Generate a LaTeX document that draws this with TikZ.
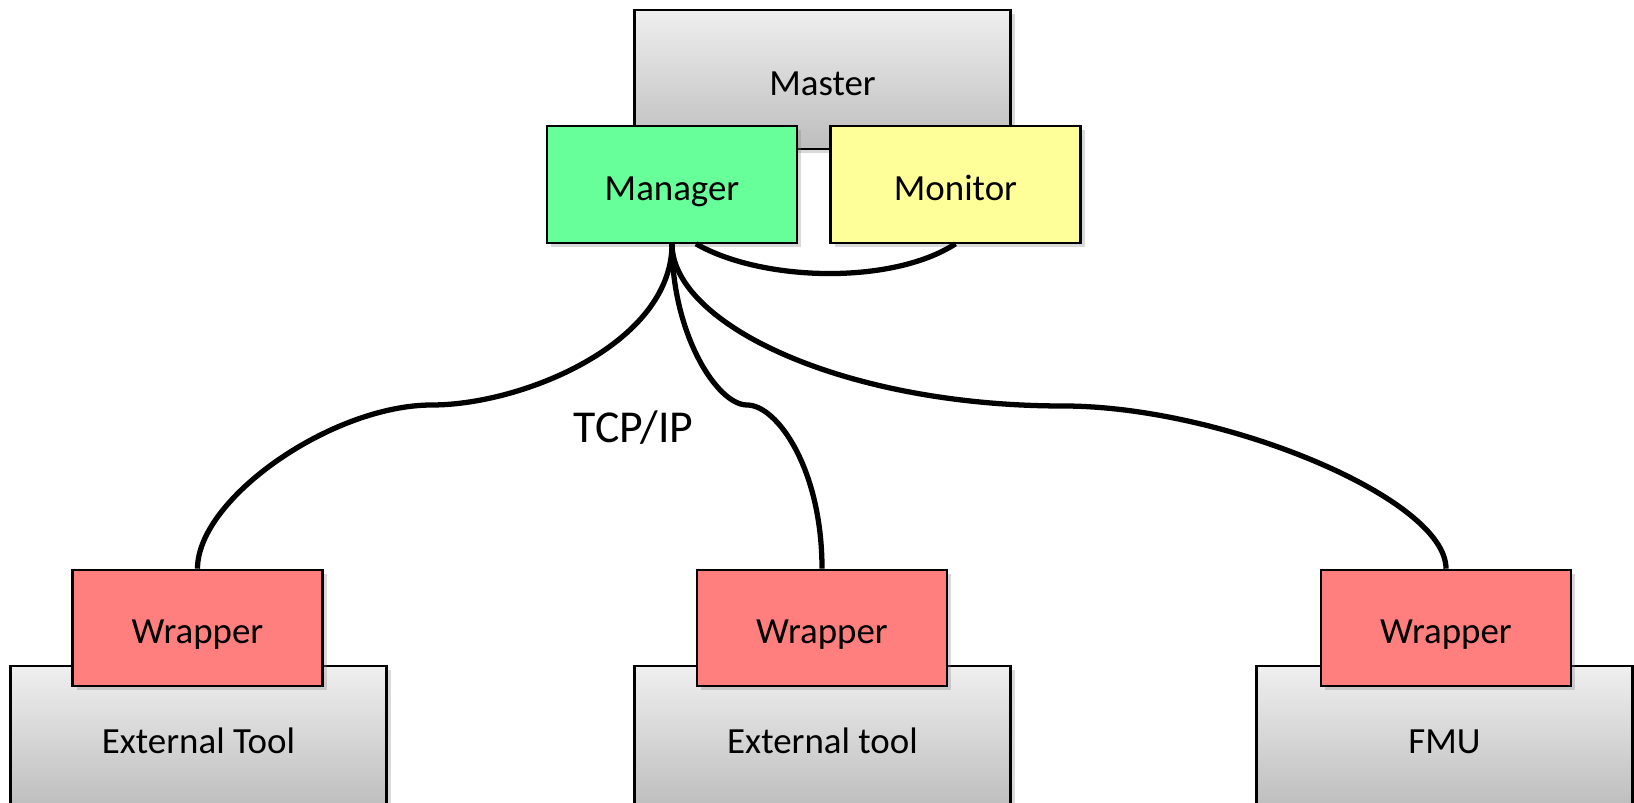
\documentclass[tikz,border=0pt]{standalone}
\usepackage{fontspec}
\setmainfont{Carlito}
\usetikzlibrary{shadows}
\definecolor{hosttop}{HTML}{EFEFEF}
\definecolor{hostbot}{HTML}{BDBDBD}
\definecolor{mgrgreen}{HTML}{66FF99}
\definecolor{monyellow}{HTML}{FFFF99}
\definecolor{wrapred}{HTML}{FF7F7F}

\begin{document}
\begin{tikzpicture}[
    font=\fontsize{10.5}{12.6}\selectfont,
    blk/.style={draw,line width=0.6pt,inner sep=0pt,text height=9pt,text depth=0pt,
      drop shadow={shadow xshift=0.04cm,shadow yshift=-0.04cm,opacity=0.3}},
    host/.style={blk,top color=hosttop,bottom color=hostbot,minimum width=3.76cm,minimum height=1.43cm},
    part/.style={blk,minimum width=2.5cm,minimum height=1.165cm},
    link/.style={line width=1.5pt}]
  \useasboundingbox (0,0) rectangle (16.34,8.03);

  \node[host,minimum height=1.39cm] (master) at (8.225,7.235) {Master};
  \node[part,fill=mgrgreen] (mgr) at (6.72,6.185) {Manager};
  \node[part,fill=monyellow] (mon) at (9.555,6.185) {Monitor};

  \node[host] (toolA) at (1.985,0.655) {External Tool};
  \node[host] (toolB) at (8.225,0.655) {External tool};
  \node[host] (fmu) at (14.445,0.655) {FMU};
  \node[part,fill=wrapred] (wrapA) at (1.975,1.75) {Wrapper};
  \node[part,fill=wrapred] (wrapB) at (8.22,1.75) {Wrapper};
  \node[part,fill=wrapred] (wrapC) at (14.46,1.75) {Wrapper};

  \coordinate (bendA) at (4.32,3.98);
  \coordinate (bendB) at (7.47,3.98);
  \coordinate (bendC) at (10.63,3.97);
  \draw[link] (mgr.south) .. controls +(0,-1.0) and +(0.9,0) .. (bendA)
    .. controls +(-1.0,0) and +(0,0.7) .. (wrapA.north);
  \draw[link] (mgr.south) .. controls +(0,-0.9) and +(-0.3,0) .. (bendB)
    .. controls +(0.3,0) and +(0,1.0) .. (wrapB.north);
  \draw[link] (mgr.south) .. controls +(0,-0.8) and +(-2.2,0) .. (bendC)
    .. controls +(1.6,0) and +(0,0.7) .. (wrapC.north);
  \draw[link] (mgr.-68) to[out=-30,in=-147,looseness=0.75] (mon.south);

  \node[font=\fontsize{13}{15.6}\selectfont,anchor=base] (tcp) at (6.335,3.60) {TCP/IP};
\end{tikzpicture}
\end{document}
